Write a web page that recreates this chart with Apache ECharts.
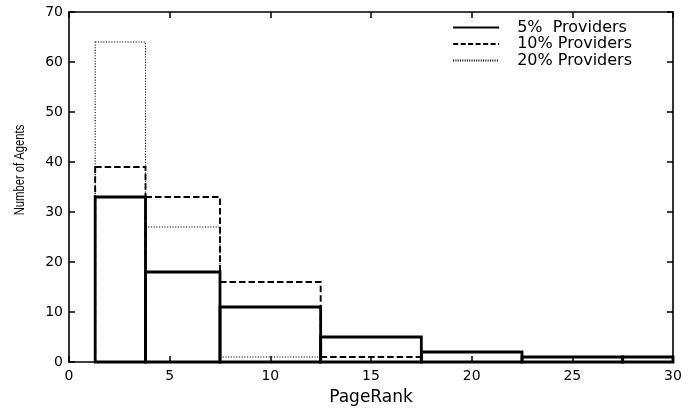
<!DOCTYPE html>
<html>
<head>
<meta charset="utf-8">
<script src="https://cdn.jsdelivr.net/npm/echarts@6/dist/echarts.min.js"></script>
<style>html,body{margin:0;padding:0;background:#fff;}#c{width:698px;height:411px;}</style>
</head>
<body>
<div id="c"></div>
<script>
// Bin edges (PageRank)
const binEdges = [1.3, 3.8, 7.5, 12.5, 17.5, 22.5, 27.5, 30];
// Number of agents per bin
const providers5 = [33, 18, 11, 5, 2, 1, 1];
const providers10 = [39, 33, 16, 1, 0, 0, 0];
const providers20 = [64, 27, 1, 0, 0, 0, 0];
const seriesNames = ['5%  Providers', '10% Providers', '20% Providers'];
const xTicks = [0, 5, 10, 15, 20, 25, 30];
const yTicks = [0, 10, 20, 30, 40, 50, 60, 70];
const xTitle = 'PageRank';
const yTitle = 'Number of Agents';

const FONT = 'DejaVu Sans';

function binData(vals) {
  return vals.map((v, i) => [binEdges[i], binEdges[i + 1], v]);
}

function makeRender(lineWidth, dash) {
  return function (params, api) {
    const x0 = api.value(0), x1 = api.value(1), y = api.value(2);
    if (y <= 0) return null;
    const p0 = api.coord([x0, y]);
    const p1 = api.coord([x1, 0]);
    return {
      type: 'rect',
      shape: { x: p0[0], y: p0[1], width: p1[0] - p0[0], height: p1[1] - p0[1] },
      style: { fill: null, stroke: '#000', lineWidth: lineWidth, lineDash: dash, lineJoin: 'miter' }
    };
  };
}

const styles = [
  { w: 2.8, dash: null, type: 'solid', lw: 2.4 },
  { w: 1.9, dash: [6.5, 3], type: [5, 2.5], lw: 1.6 },
  { w: 1.1, dash: [1.1, 1.6], type: [1, 1.3], lw: 1 }
];
const dataSets = [providers5, providers10, providers20];

const series = [];
// draw 20% first, then 10%, then 5% on top
[2, 1, 0].forEach(k => {
  series.push({
    type: 'custom',
    name: 'bars' + k,
    renderItem: makeRender(styles[k].w, styles[k].dash),
    encode: { x: [0, 1], y: 2 },
    data: binData(dataSets[k]),
    silent: true,
    z: 3 - k
  });
});
// legend-only line series
[0, 1, 2].forEach(k => {
  series.push({
    type: 'line',
    name: seriesNames[k],
    data: [],
    symbol: 'none',
    lineStyle: { color: '#000', width: styles[k].lw, type: styles[k].type },
    itemStyle: { color: 'rgba(0,0,0,0)', borderWidth: 0, opacity: 0 }
  });
});

const axisCommon = {
  axisLine: { show: true, onZero: false, lineStyle: { color: '#000', width: 1.6 } },
  axisTick: { show: true, inside: true, length: 6, lineStyle: { color: '#000', width: 1.5 } },
  splitLine: { show: false }
};

const option = {
  animation: false,
  backgroundColor: '#fff',
  textStyle: { fontFamily: FONT },
  grid: { left: 69, right: 25, top: 12, bottom: 47 },
  legend: {
    orient: 'vertical',
    right: 66,
    top: 19.5,
    padding: 0,
    itemWidth: 46,
    itemHeight: 12,
    itemGap: 0.5,
    data: seriesNames,
    itemStyle: { opacity: 0 },
    textStyle: { fontFamily: FONT, fontSize: 16, lineHeight: 15, color: '#000', padding: [0, 0, 0, 13] },
    selectedMode: false
  },
  graphic: [{
    type: 'text',
    x: 20,
    y: 170,
    rotation: Math.PI / 2,
    scaleX: 0.75,
    silent: true,
    style: {
      text: yTitle,
      font: '15px "Liberation Sans"',
      fill: '#000',
      align: 'center',
      verticalAlign: 'middle'
    }
  }],
  xAxis: [
    Object.assign({
      type: 'value', min: xTicks[0], max: xTicks[xTicks.length - 1], interval: 5,
      position: 'bottom',
      name: xTitle, nameLocation: 'middle', nameGap: 27,
      nameTextStyle: { fontFamily: FONT, fontSize: 17, color: '#000' },
      axisLabel: { fontFamily: FONT, fontSize: 14, color: '#000', margin: 7 }
    }, axisCommon),
    Object.assign({
      type: 'value', min: xTicks[0], max: xTicks[xTicks.length - 1], interval: 5,
      position: 'top', axisLabel: { show: false }
    }, axisCommon)
  ],
  yAxis: [
    Object.assign({
      type: 'value', min: yTicks[0], max: yTicks[yTicks.length - 1], interval: 10,
      position: 'left',
      axisLabel: { fontFamily: FONT, fontSize: 14, color: '#000', margin: 6 }
    }, axisCommon),
    Object.assign({
      type: 'value', min: yTicks[0], max: yTicks[yTicks.length - 1], interval: 10,
      position: 'right', axisLabel: { show: false }
    }, axisCommon)
  ],
  series: series
};

const chart = echarts.init(document.getElementById('c'), null, { renderer: 'canvas' });
chart.setOption(option);
</script>
</body>
</html>
